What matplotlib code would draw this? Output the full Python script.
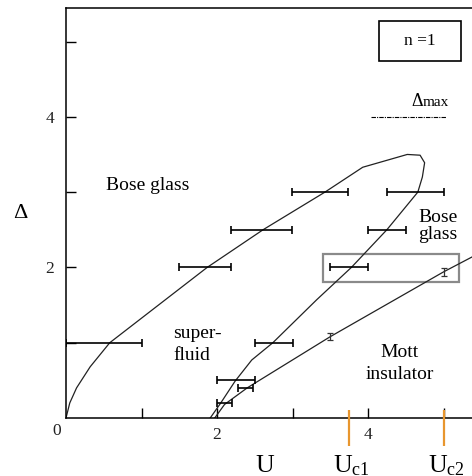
import matplotlib
matplotlib.use("Agg")
import matplotlib.pyplot as plt
from matplotlib.patches import Rectangle

plt.rcParams['font.family'] = ['Liberation Serif', 'DejaVu Serif']
plt.rcParams['mathtext.fontset'] = 'custom'
plt.rcParams['mathtext.rm'] = 'Liberation Serif'
plt.rcParams['mathtext.it'] = 'Liberation Serif:italic'

# Outer phase boundary (Bose glass / superfluid loop)
outer_u = [0.0, 0.05, 0.14, 0.32, 0.58, 1.87, 2.61, 3.43, 3.93, 4.52, 4.69,
           4.75, 4.72, 4.66, 4.25, 3.78, 3.32, 2.74, 2.46, 2.24, 2.05, 1.91]
outer_d = [0.0, 0.20, 0.40, 0.68, 1.00, 2.00, 2.50, 3.00, 3.33, 3.50, 3.49,
           3.39, 3.20, 3.00, 2.50, 2.00, 1.57, 1.00, 0.77, 0.49, 0.20, 0.0]

# Mott insulator boundary
mott_u = [1.97, 2.10, 2.40, 3.50, 5.00, 5.40]
mott_d = [0.00, 0.18, 0.40, 1.08, 1.94, 2.15]

# Horizontal error bars
hx = [0.50, 1.84, 2.59, 3.36, 4.63, 4.25, 3.75, 2.75, 2.25, 2.38, 2.10]
hy = [1.00, 2.00, 2.50, 3.00, 3.00, 2.50, 2.00, 1.00, 0.50, 0.40, 0.20]
hxerr = [0.50, 0.34, 0.40, 0.37, 0.38, 0.25, 0.25, 0.25, 0.25, 0.10, 0.10]

# Vertical error bars on the Mott boundary
vx = [3.50, 5.00]
vy = [1.08, 1.94]
vyerr = [0.05, 0.05]

# Critical interaction strengths
uc = [3.75, 5.00]
uc_labels = [r'$\mathrm{U}_{\mathrm{c1}}$', r'$\mathrm{U}_{\mathrm{c2}}$']

delta_max = 4.0
delta_max_span = [4.04, 5.03]

x_ticks = [1, 2, 3, 4, 5]
x_ticklabels = ['', '2', '', '4', '']
y_ticks = [1, 2, 3, 4, 5]
y_ticklabels = ['', '2', '', '4', '']

W, H = 472, 476
fig = plt.figure(figsize=(W / 100, H / 100), dpi=100)
ax = fig.add_axes([66 / W, 58 / H, 406 / W, 410 / H])
ax.set_xlim(0, 406 / 75.5)
ax.set_ylim(0, 410 / 75.3)

ax.plot(outer_u, outer_d, color='#222222', lw=0.9)
ax.plot(mott_u, mott_d, color='#222222', lw=0.9)

ax.errorbar(hx, hy, xerr=hxerr, fmt='none', ecolor='black', elinewidth=1.2,
            capsize=2.6, capthick=1.2)
ax.errorbar(vx, vy, yerr=vyerr, fmt='none', ecolor='#333333', elinewidth=0.9,
            capsize=2.2, capthick=0.9)

ax.add_patch(Rectangle((3.40, 1.81), 1.81, 0.37, fill=False,
                       edgecolor='#8a8a8a', lw=1.6))

ax.plot(delta_max_span, [delta_max, delta_max], color='black', lw=0.8,
        linestyle=(0, (4, 1, 1, 1)))
ax.text(4.57, 4.15, 'Δ', fontsize=13, ha='left', va='baseline')
ax.text(4.73, 4.15, 'max', fontsize=11, ha='left', va='baseline')

ax.add_patch(Rectangle((0.771, 0.871), 0.202, 0.0976, transform=ax.transAxes,
                       fill=False, edgecolor='black', lw=1.2))
ax.text(0.872, 0.919, 'n =1', transform=ax.transAxes, fontsize=12.5,
        ha='center', va='center')

fs = 14
ax.text(1.086, 3.03, 'Bose glass', fontsize=fs, ha='center', va='baseline')
ax.text(4.93, 2.60, 'Bose', fontsize=fs, ha='center', va='baseline')
ax.text(4.93, 2.38, 'glass', fontsize=fs, ha='center', va='baseline')
ax.text(1.417, 1.06, 'super-', fontsize=fs, ha='left', va='baseline')
ax.text(1.417, 0.77, 'fluid', fontsize=fs, ha='left', va='baseline')
ax.text(4.42, 0.81, 'Mott', fontsize=fs, ha='center', va='baseline')
ax.text(4.42, 0.52, 'insulator', fontsize=fs, ha='center', va='baseline')

for u in uc:
    ax.plot([u, u], [0.11, -0.37], color='#e8962e', lw=1.6, clip_on=False,
            solid_capstyle='butt', zorder=5)

for u, lab in zip(uc, uc_labels):
    xpix = 66 + u * 75.5
    fig.text((xpix - 16) / W, 4 / H, lab, fontsize=18.5, ha='left',
             va='baseline')
fig.text(265 / W, 4 / H, 'U', fontsize=18.5, ha='center', va='baseline')
fig.text(20 / W, 1 - 213 / H, 'Δ', fontsize=16, ha='center', va='center')

ax.set_xticks(x_ticks)
ax.set_xticklabels(x_ticklabels)
ax.set_yticks(y_ticks)
ax.set_yticklabels(y_ticklabels)
ax.tick_params(direction='in', length=7.2, width=1.0, labelsize=12.5,
               colors='black', labelcolor='#222222')
ax.tick_params(axis='x', pad=6.5)
ax.tick_params(axis='y', pad=8.6)
ax.annotate('0', xy=(0, 0), xytext=(-6.5, -9.4), textcoords='offset points',
            fontsize=12.5, ha='center', va='center', color='#222222',
            annotation_clip=False)

for side in ['left', 'bottom', 'top']:
    ax.spines[side].set_linewidth(1.1)
ax.spines['right'].set_visible(False)

fig.savefig('out.png', dpi=100)
